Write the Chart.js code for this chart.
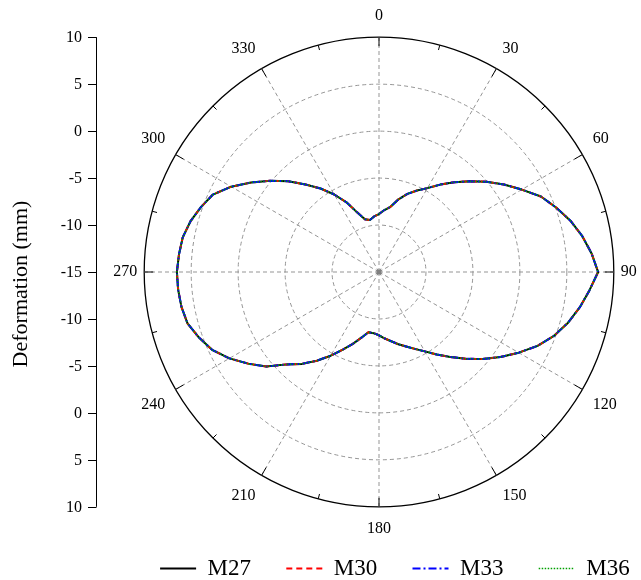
<!DOCTYPE html>
<html>
<head>
<meta charset="utf-8">
<script src="https://cdn.jsdelivr.net/npm/chart.js@4.4.0/dist/chart.umd.min.js"></script>
<style>
  html, body { margin: 0; padding: 0; background: #fff; }
  #wrap { width: 641px; height: 580px; }
</style>
</head>
<body>
<div id="wrap"><canvas id="my-chart"></canvas></div>
<script>
// angle of each sample, degrees clockwise from the top
var angles = [0, 5, 10, 15, 20, 25, 30, 35, 40, 45, 50, 55, 60, 65, 70, 75, 80, 85,
  90, 95, 100, 105, 110, 115, 120, 125, 130, 135, 140, 145, 150, 155, 160, 165, 170, 175,
  180, 185, 190, 195, 200, 205, 210, 215, 220, 225, 230, 235, 240, 245, 250, 255, 260, 265,
  270, 275, 280, 285, 290, 295, 300, 305, 310, 315, 320, 325, 330, 335, 340, 345, 350, 355];

// deformation (mm), one value per angle
var m27 = [-8.83, -8.38, -7.95, -6.99, -6.15, -5.43, -4.69, -3.64, -2.52, -1.35,
  -0.05, 1.24, 2.55, 4.02, 5.07, 6.10, 6.98, 7.72, 8.33, 7.49,
  6.70, 5.84, 4.84, 3.62, 2.18, 0.79, -0.59, -1.94, -3.20, -4.28,
  -5.24, -5.97, -6.56, -7.04, -7.51, -7.89, -8.26, -8.46, -8.49, -7.76,
  -6.85, -5.87, -4.71, -3.47, -2.23, -1.09, 0.67, 2.01, 3.39, 4.61,
  5.40, 6.11, 6.36, 6.47, 6.52, 6.38, 6.22, 5.79, 5.18, 4.51,
  3.17, 1.62, 0.11, -1.33, -2.83, -4.15, -5.47, -6.81, -8.27, -9.18,
  -9.38, -9.06];
var m30 = [-8.83, -8.38, -7.95, -6.99, -6.15, -5.43, -4.69, -3.64, -2.52, -1.35,
  -0.05, 1.24, 2.55, 4.02, 5.07, 6.10, 6.98, 7.72, 8.33, 7.49,
  6.70, 5.84, 4.84, 3.62, 2.18, 0.79, -0.59, -1.94, -3.20, -4.28,
  -5.24, -5.97, -6.56, -7.04, -7.51, -7.89, -8.26, -8.46, -8.49, -7.76,
  -6.85, -5.87, -4.71, -3.47, -2.23, -1.09, 0.67, 2.01, 3.39, 4.61,
  5.40, 6.11, 6.36, 6.47, 6.52, 6.38, 6.22, 5.79, 5.18, 4.51,
  3.17, 1.62, 0.11, -1.33, -2.83, -4.15, -5.47, -6.81, -8.27, -9.18,
  -9.38, -9.06];
var m33 = [-8.83, -8.38, -7.95, -6.99, -6.15, -5.43, -4.69, -3.64, -2.52, -1.35,
  -0.05, 1.24, 2.55, 4.02, 5.07, 6.10, 6.98, 7.72, 8.33, 7.49,
  6.70, 5.84, 4.84, 3.62, 2.18, 0.79, -0.59, -1.94, -3.20, -4.28,
  -5.24, -5.97, -6.56, -7.04, -7.51, -7.89, -8.26, -8.46, -8.49, -7.76,
  -6.85, -5.87, -4.71, -3.47, -2.23, -1.09, 0.67, 2.01, 3.39, 4.61,
  5.40, 6.11, 6.36, 6.47, 6.52, 6.38, 6.22, 5.79, 5.18, 4.51,
  3.17, 1.62, 0.11, -1.33, -2.83, -4.15, -5.47, -6.81, -8.27, -9.18,
  -9.38, -9.06];
var m36 = [-8.83, -8.38, -7.95, -6.99, -6.15, -5.43, -4.69, -3.64, -2.52, -1.35,
  -0.05, 1.24, 2.55, 4.02, 5.07, 6.10, 6.98, 7.72, 8.33, 7.49,
  6.70, 5.84, 4.84, 3.62, 2.18, 0.79, -0.59, -1.94, -3.20, -4.28,
  -5.24, -5.97, -6.56, -7.04, -7.51, -7.89, -8.26, -8.46, -8.49, -7.76,
  -6.85, -5.87, -4.71, -3.47, -2.23, -1.09, 0.67, 2.01, 3.39, 4.61,
  5.40, 6.11, 6.36, 6.47, 6.52, 6.38, 6.22, 5.79, 5.18, 4.51,
  3.17, 1.62, 0.11, -1.33, -2.83, -4.15, -5.47, -6.81, -8.27, -9.18,
  -9.38, -9.06];

var radialTicks = [-15, -10, -5, 0, 5, 10];
var labelStep = 30;   // printed angle labels
var minorStep = 15;   // small ticks on the rim

var serif = "'Liberation Serif', 'Times New Roman', serif";
var gridGrey = '#959595';

// left hand deformation axis, mirrored about the pole, plus rim ticks
var polarAxis = {
  id: 'polarAxis',
  afterDraw: function (chart) {
    var r = chart.scales.r;
    var ctx = chart.ctx;
    var cx = r.xCenter, cy = r.yCenter, R = r.drawingArea;
    var ax = Math.round(cx - R - 48);

    ctx.save();
    ctx.strokeStyle = '#000';
    ctx.fillStyle = '#000';
    ctx.lineWidth = 1;

    // rim ticks
    angles.forEach(function (a, i) {
      if (a % minorStep !== 0) return;
      var len = a % labelStep === 0 ? 9 : 5;
      var p1 = r.getPointPosition(i, R);
      var p2 = r.getPointPosition(i, R - len);
      ctx.beginPath();
      ctx.moveTo(p1.x, p1.y);
      ctx.lineTo(p2.x, p2.y);
      ctx.stroke();
    });

    // pole marker
    ctx.fillStyle = '#808080';
    ctx.fillRect(cx - 2.5, cy - 2.5, 5, 5);
    ctx.fillStyle = '#000';

    // axis line
    ctx.beginPath();
    ctx.moveTo(ax + 0.5, cy - R);
    ctx.lineTo(ax + 0.5, cy + R);
    ctx.stroke();

    ctx.font = '16px ' + serif;
    ctx.textAlign = 'right';
    ctx.textBaseline = 'middle';
    radialTicks.forEach(function (v) {
      var d = r.getDistanceFromCenterForValue(v);
      var ys = d === 0 ? [cy] : [cy - d, cy + d];
      ys.forEach(function (y) {
        ctx.beginPath();
        ctx.moveTo(ax - 8, Math.round(y) + 0.5);
        ctx.lineTo(ax + 0.5, Math.round(y) + 0.5);
        ctx.stroke();
        ctx.fillText(String(v), ax - 14, y + 1);
      });
    });

    // axis title
    ctx.translate(27, cy + 12);
    ctx.rotate(-Math.PI / 2);
    ctx.font = '22px ' + serif;
    ctx.textAlign = 'center';
    ctx.textBaseline = 'alphabetic';
    ctx.fillText('Deformation (mm)', 0, 0);
    ctx.restore();
  }
};

var ctx = document.getElementById('my-chart');

var myChart = new Chart(ctx, {
  type: 'radar',
  data: {
    labels: angles,
    datasets: [
      { label: 'M27', data: m27, borderColor: '#000000', borderWidth: 2, borderDash: [], order: 3 },
      { label: 'M30', data: m30, borderColor: '#ff0000', borderWidth: 2, borderDash: [6, 4], order: 2 },
      { label: 'M33', data: m33, borderColor: '#0000ff', borderWidth: 2, borderDash: [8, 3, 2, 3], order: 1 },
      { label: 'M36', data: m36, borderColor: '#00a000', borderWidth: 1.5, borderDash: [1.5, 1.5], order: 0 }
    ]
  },
  options: {
    responsive: true,
    maintainAspectRatio: false,
    animation: false,
    layout: { padding: { left: 109, right: -57, top: 7, bottom: -10 } },
    elements: {
      line: { fill: false, tension: 0, borderJoinStyle: 'round' },
      point: { radius: 0, hoverRadius: 0, hitRadius: 0 }
    },
    scales: {
      r: {
        min: -15,
        max: 10,
        startAngle: 0,
        ticks: { stepSize: 5, display: false },
        grid: {
          circular: true,
          color: function (c) { return c.tick && c.tick.value === 10 ? '#000' : gridGrey; },
          lineWidth: function (c) { return c.tick && c.tick.value === 10 ? 1.3 : 1; }
        },
        border: {
          dash: function (c) { return c.tick && c.tick.value === 10 ? [] : [4, 3]; }
        },
        angleLines: {
          color: gridGrey,
          lineWidth: function (c) { return angles[c.index] % labelStep === 0 ? 1 : 0; },
          borderDash: [4, 3]
        },
        pointLabels: {
          padding: function (c) {
            var a = angles[c.index];
            return a === 90 || a === 270 ? 7 : 12;
          },
          color: '#000',
          font: { family: serif, size: 16, lineHeight: 1.2 },
          callback: function (label, i) {
            return angles[i] % labelStep === 0 ? String(angles[i]) : '';
          }
        }
      }
    },
    plugins: {
      tooltip: { enabled: false },
      legend: {
        position: 'bottom',
        labels: {
          usePointStyle: true,
          pointStyle: 'line',
          pointStyleWidth: 36,
          padding: 18,
          color: '#000',
          font: { family: serif, size: 23 },
          generateLabels: function (chart) {
            return chart.data.datasets.map(function (ds, i) {
              return {
                text: ds.label + '\u2002 ',
                fillStyle: ds.borderColor,
                strokeStyle: ds.borderColor,
                fontColor: '#000',
                lineWidth: ds.borderWidth,
                lineDash: ds.borderDash,
                pointStyle: 'line',
                hidden: false,
                datasetIndex: i
              };
            });
          }
        }
      }
    }
  },
  plugins: [polarAxis]
});
</script>
</body>
</html>
